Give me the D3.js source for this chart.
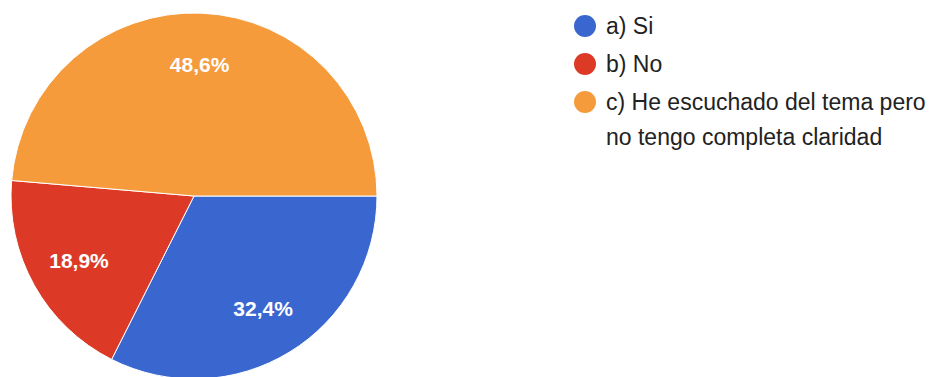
<!DOCTYPE html>
<html>
<head>
<meta charset="utf-8">
<script src="https://cdn.jsdelivr.net/npm/d3@7"></script>
<style>
  html, body { margin: 0; padding: 0; background: #fff; }
  svg { display: block; }
</style>
</head>
<body>
<svg id="chart" width="951" height="377"></svg>
<script>
// Response categories and their shares (%)
const categories = ["a) Si", "b) No", "c) He escuchado del tema pero no tengo completa claridad"];
const legendLines = [["a) Si"], ["b) No"], ["c) He escuchado del tema pero", "no tengo completa claridad"]];
const values = [32.4, 18.9, 48.6];
const labels = ["32,4%", "18,9%", "48,6%"];
const colors = ["#3a67cf", "#dc3a26", "#f59b3c"];

const font = "Arial, 'Liberation Sans', sans-serif";
const svg = d3.select("#chart");
const cx = 194, cy = 196, r = 183;

// Slices start at 3 o'clock and run clockwise
const pie = d3.pie().sort(null).value(d => d)
  .startAngle(Math.PI / 2).endAngle(Math.PI / 2 + 2 * Math.PI);
const arcs = pie(values);
const arc = d3.arc().innerRadius(0).outerRadius(r);
const labelArc = d3.arc().innerRadius(r * 0.72).outerRadius(r * 0.72);

const g = svg.append("g").attr("transform", `translate(${cx},${cy})`);
g.selectAll("path").data(arcs).join("path")
  .attr("d", arc)
  .attr("fill", (d, i) => colors[i])
  .attr("stroke", "#fff")
  .attr("stroke-width", 1);

g.selectAll("text").data(arcs).join("text")
  .attr("transform", d => `translate(${labelArc.centroid(d)})`)
  .attr("text-anchor", "middle")
  .attr("dy", "0.35em")
  .attr("fill", "#fff")
  .attr("font-family", font)
  .attr("font-size", 21)
  .attr("font-weight", "bold")
  .text((d, i) => labels[i]);

// Legend
const legend = svg.append("g").attr("transform", "translate(585,26)");
const rowY = [0, 38, 76];
categories.forEach((c, i) => {
  const row = legend.append("g").attr("transform", `translate(0,${rowY[i]})`);
  row.append("circle").attr("r", 11).attr("fill", colors[i]);
  const t = row.append("text")
    .attr("y", 0)
    .attr("fill", "#222")
    .attr("font-family", font)
    .attr("font-size", 23);
  legendLines[i].forEach((line, j) => {
    t.append("tspan").attr("x", 21).attr("dy", j === 0 ? "0.35em" : 35).text(line);
  });
});
</script>
</body>
</html>
